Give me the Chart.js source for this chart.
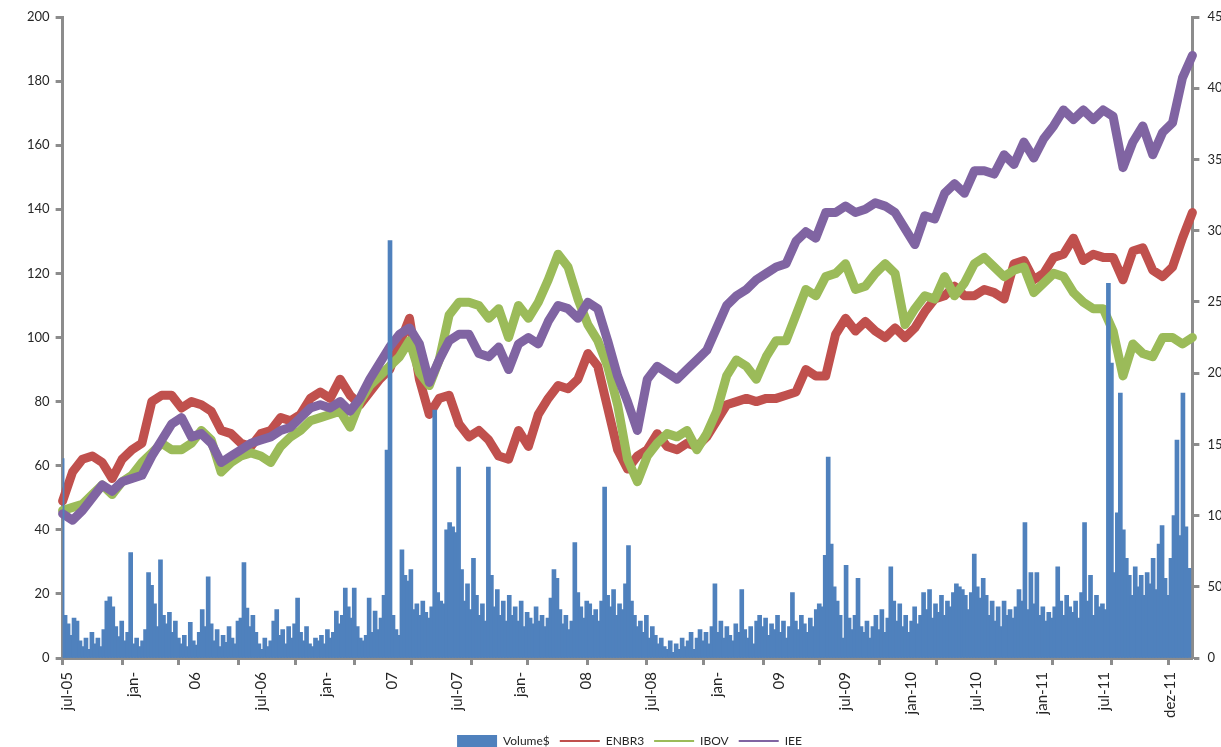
<!DOCTYPE html>
<html>
<head>
<meta charset="utf-8">
<script src="https://cdn.jsdelivr.net/npm/chart.js@4.4.1/dist/chart.umd.min.js"></script>
<style>
  html, body { margin: 0; padding: 0; background: #fff; overflow: hidden; }
  #wrap { width: 1240px; height: 747px; }
</style>
</head>
<body>
<div id="wrap"><canvas id="chart" width="1240" height="747"></canvas></div>
<script>
// x-axis texts as they appear under the axis
const xLabels = ['jul-05', 'jan-', '06', 'jul-06', 'jan-', '07', 'jul-07', 'jan-', '08',
                 'jul-08', 'jan-', '09', 'jul-09', 'jan-10', 'jul-10', 'jan-11', 'jul-11', 'dez-11'];
const leftTicks = [0, 20, 40, 60, 80, 100, 120, 140, 160, 180, 200];
const rightTicks = [0, 50, 100, 150, 200, 250, 300, 350, 400, 450];

// traded volume (right axis), read left to right
const volume = [
  140, 30, 24, 16, 28, 26, 12, 8, 14, 6,
  18, 10, 14, 8, 20, 40, 43, 36, 22, 15,
  26, 12, 18, 74, 10, 14, 8, 12, 20, 60,
  51, 38, 22, 69, 30, 24, 32, 18, 26, 14,
  10, 16, 8, 25, 12, 9, 18, 34, 22, 57,
  24, 12, 20, 8, 16, 11, 22, 14, 10, 26,
  28, 67, 35, 22, 30, 18, 10, 6, 14, 8,
  12, 26, 34, 16, 20, 10, 22, 14, 24, 42,
  18, 12, 22, 10, 8, 14, 12, 16, 10, 20,
  14, 18, 33, 24, 30, 49, 36, 28, 49, 22,
  14, 12, 16, 42, 18, 33, 20, 28, 44, 146,
  293, 30, 20, 16, 76, 58, 54, 62, 34, 38,
  30, 40, 32, 28, 36, 174, 46, 40, 38, 90,
  95, 92, 88, 134, 62, 40, 52, 34, 70, 44,
  30, 38, 26, 134, 58, 36, 48, 30, 40, 26,
  44, 30, 36, 26, 40, 22, 32, 28, 24, 36,
  26, 30, 22, 28, 42, 62, 56, 34, 24, 30,
  20, 26, 81, 46, 36, 28, 40, 38, 30, 34,
  26, 40, 120, 44, 36, 48, 30, 38, 34, 52,
  79, 40, 30, 22, 26, 18, 30, 14, 22, 16,
  10, 14, 8, 6, 12, 4, 10, 6, 14, 8,
  12, 18, 6, 14, 20, 12, 18, 10, 22, 52,
  18, 26, 14, 22, 16, 12, 24, 18, 48, 20,
  14, 22, 10, 26, 30, 22, 28, 16, 24, 20,
  30, 18, 26, 14, 22, 46, 26, 20, 30, 24,
  18, 28, 22, 34, 38, 36, 72, 141, 80, 50,
  40, 30, 14, 65, 28, 20, 30, 56, 22, 18,
  26, 14, 22, 30, 20, 34, 18, 28, 64, 40,
  26, 38, 22, 30, 18, 26, 36, 24, 30, 46,
  34, 48, 28, 38, 32, 44, 30, 40, 36, 46,
  52, 50, 48, 44, 34, 46, 73, 50, 42, 56,
  44, 30, 40, 26, 36, 22, 40, 30, 34, 28,
  36, 48, 40, 95, 34, 60, 38, 60, 30, 36,
  26, 32, 28, 36, 64, 40, 30, 44, 36, 32,
  40, 28, 46, 95, 40, 58, 30, 44, 36, 38,
  34, 263, 207, 60, 102, 186, 90, 70, 58, 44,
  64, 50, 58, 44, 60, 52, 70, 48, 80, 93,
  56, 44, 70, 100, 153, 86, 186, 92, 63
];

// price series (left axis), sampled evenly over the same period
const enbr3 = [
  49, 58, 62, 63, 61, 56, 62, 65, 67, 80,
  82, 82, 78, 80, 79, 77, 71, 70, 67, 66,
  70, 71, 75, 74, 76, 81, 83, 81, 87, 82,
  79, 83, 87, 90, 98, 106, 87, 76, 81, 82,
  73, 69, 71, 68, 63, 62, 71, 66, 76, 81,
  85, 84, 87, 95, 91, 78, 65, 59, 63, 65,
  70, 66, 65, 67, 66, 69, 74, 79, 80, 81,
  80, 81, 81, 82, 83, 90, 88, 88, 101, 106,
  102, 105, 102, 100, 103, 100, 103, 108, 112, 113,
  116, 113, 113, 115, 114, 112, 123, 124, 118, 120,
  125, 126, 131, 124, 126, 125, 125, 118, 127, 128,
  121, 119, 122, 131, 139
];
const ibov = [
  46, 47, 48, 51, 54, 51, 55, 57, 61, 64,
  67, 65, 65, 67, 71, 68, 58, 61, 63, 64,
  63, 61, 66, 69, 71, 74, 75, 76, 77, 72,
  80, 85, 88, 91, 94, 99, 89, 85, 93, 107,
  111, 111, 110, 106, 109, 100, 110, 106, 111, 118,
  126, 122, 112, 104, 99, 91, 79, 62, 55, 63,
  67, 70, 69, 71, 65, 70, 77, 88, 93, 91,
  87, 94, 99, 99, 107, 115, 113, 119, 120, 123,
  115, 116, 120, 123, 120, 104, 109, 113, 112, 119,
  113, 117, 123, 125, 122, 119, 121, 122, 114, 117,
  120, 119, 114, 111, 109, 109, 102, 88, 98, 95,
  94, 100, 100, 98, 100
];
const iee = [
  45, 43, 46, 50, 54, 52, 55, 56, 57, 63,
  68, 73, 75, 69, 70, 67, 61, 63, 65, 67,
  68, 69, 71, 72, 75, 78, 79, 78, 80, 77,
  81, 87, 92, 97, 101, 103, 98, 86, 93, 99,
  101, 101, 95, 94, 97, 90, 98, 100, 98, 105,
  110, 109, 106, 111, 109, 99, 88, 80, 71, 87,
  91, 89, 87, 90, 93, 96, 103, 110, 113, 115,
  118, 120, 122, 123, 130, 133, 131, 139, 139, 141,
  139, 140, 142, 141, 139, 134, 129, 138, 137, 145,
  148, 145, 152, 152, 151, 157, 154, 161, 156, 162,
  166, 171, 168, 171, 168, 171, 169, 153, 161, 166,
  157, 164, 167, 181, 188
];

const axisGrey = '#8c8c8c';
const textCol = '#262626';
const font = { family: 'Lato', size: 13 };

// which bar slots carry a text label / a tick mark
const labelAt = {};
xLabels.forEach((t, k) => { labelAt[Math.round(0.83 + k * 21.78)] = t; });
const markAt = new Set();
for (let k = 0; k < 20; k++) markAt.add(Math.round(k * 19.55));

function lineSet(label, data, colour, order) {
  return {
    type: 'line', label: label, data: data, yAxisID: 'y', xAxisID: 'xl',
    borderColor: colour, backgroundColor: colour, borderWidth: 9,
    pointRadius: 0, borderJoinStyle: 'round', borderCapStyle: 'round',
    order: order, pointStyle: 'line'
  };
}

new Chart(document.getElementById('chart'), {
  data: {
    labels: volume.map((v, i) => String(i)),
    datasets: [
      {
        type: 'bar', label: 'Volume$', data: volume, yAxisID: 'y2', xAxisID: 'x',
        backgroundColor: '#4F81BD', borderWidth: 0, barThickness: 4,
        order: 0, pointStyle: 'rect'
      },
      lineSet('ENBR3', enbr3, '#C0504D', 3),
      lineSet('IBOV', ibov, '#9BBB59', 2),
      lineSet('IEE', iee, '#8064A2', 1)
    ]
  },
  options: {
    responsive: false,
    animation: false,
    layout: { padding: { left: 21, right: 2, top: 17, bottom: -10 } },
    scales: {
      x: {
        type: 'category', offset: true,
        afterFit: s => { s.height = 67; },
        grid: {
          drawOnChartArea: false, offset: true, tickLength: 7, tickWidth: 3,
          tickColor: c => markAt.has(c.index) ? axisGrey : 'rgba(0,0,0,0)'
        },
        border: { color: axisGrey, width: 3 },
        ticks: {
          autoSkip: false, minRotation: 90, maxRotation: 90, padding: 7,
          color: textCol, font: { family: 'Lato', size: 15 },
          callback: (v, i) => labelAt[i] || ''
        }
      },
      xl: {
        type: 'category', labels: enbr3.map((v, i) => String(i)),
        offset: false, display: false
      },
      y: {
        position: 'left', min: 0, max: 200,
        afterBuildTicks: s => { s.ticks = leftTicks.map(v => ({ value: v })); },
        grid: { drawOnChartArea: false, tickLength: 7, tickWidth: 3, tickColor: axisGrey },
        border: { color: axisGrey, width: 3 },
        ticks: { color: textCol, font: font, padding: 6 }
      },
      y2: {
        position: 'right', min: 0, max: 450,
        afterBuildTicks: s => { s.ticks = rightTicks.map(v => ({ value: v })); },
        grid: { drawOnChartArea: false, tickLength: 7, tickWidth: 3, tickColor: axisGrey },
        border: { color: axisGrey, width: 3 },
        ticks: { color: textCol, font: font, padding: 8 }
      }
    },
    plugins: {
      tooltip: { enabled: false },
      legend: {
        position: 'bottom',
        labels: {
          usePointStyle: true, pointStyleWidth: 40, boxHeight: 12,
          color: textCol, font: { family: 'Lato', size: 12 }, padding: 10,
          sort: (a, b) => a.datasetIndex - b.datasetIndex,
          generateLabels: chart => {
            const items = Chart.defaults.plugins.legend.labels.generateLabels(chart);
            items.forEach(it => { it.lineWidth = it.datasetIndex === 0 ? 0 : 2; });
            return items;
          }
        }
      }
    }
  }
});
</script>
</body>
</html>
